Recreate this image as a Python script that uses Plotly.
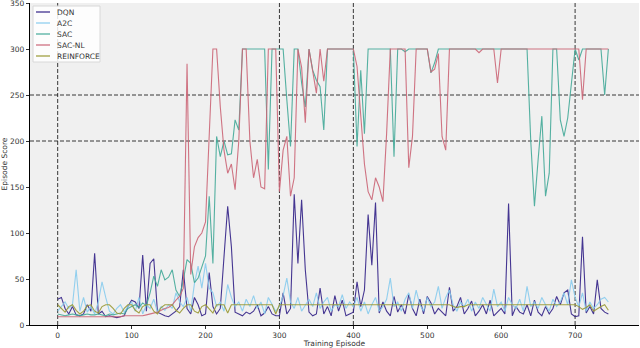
import plotly.graph_objects as go

# scores sampled every 5 training episodes (0, 5, ..., 745)
EPISODE_STEP = 5

dqn = [
    28, 30, 18, 12, 20, 11, 10, 12, 22, 15,
    78, 12, 15, 9, 10, 9, 8, 9, 10, 20,
    27, 25, 18, 76, 15, 67, 72, 14, 12, 10,
    9, 12, 15, 20, 60, 18, 12, 30, 22, 10,
    12, 57, 20, 12, 18, 74, 129, 85, 14, 12,
    10, 14, 12, 15, 22, 10, 13, 20, 12, 10,
    10, 35, 12, 18, 142, 67, 136, 60, 14, 10,
    12, 40, 12, 20, 10, 32, 15, 27, 10, 12,
    14, 47, 20, 38, 120, 65, 133, 13, 25, 15,
    10, 31, 14, 22, 12, 33, 18, 10, 28, 12,
    31, 24, 12, 18, 14, 10, 41, 15, 20, 30,
    12, 18, 26, 10, 15, 22, 12, 27, 10, 14,
    18, 12, 132, 10, 20, 14, 12, 22, 10, 27,
    14, 10, 20, 12, 18, 31, 22, 35, 38, 12,
    9, 10, 96, 13, 20, 12, 49, 18, 14, 12,
]

a2c = [
    15, 20, 25, 18, 22, 60, 15, 30, 14, 20,
    12, 25, 47, 30, 15, 12, 18, 22, 14, 20,
    25, 15, 30, 12, 22, 18, 28, 14, 20, 16,
    22, 18, 35, 25, 20, 30, 15, 45, 64, 40,
    67, 40, 35, 20, 25, 15, 44, 30, 20, 25,
    15, 28, 20, 32, 18, 25, 12, 30, 22, 15,
    20, 32, 51, 25, 18, 30, 15, 22, 28, 20,
    35, 18, 25, 30, 15, 22, 20, 33, 18, 25,
    20, 30, 15, 25, 12, 22, 30, 15, 20, 28,
    51, 20, 25, 15, 28, 35, 18, 38, 22, 15,
    30, 20, 25, 42, 18, 30, 38, 22, 15, 25,
    20, 28, 15, 25, 18, 30, 22, 15, 39, 20,
    25, 15, 30, 22, 18, 28, 15, 42, 20, 25,
    18, 30, 22, 15, 28, 20, 25, 35, 22, 49,
    30, 20, 35, 15, 25, 18, 22, 28, 30, 25,
]

sac = [
    12, 11, 10, 11, 12, 11, 10, 11, 12, 11,
    11, 12, 11, 10, 12, 11, 12, 13, 12, 18,
    20, 22, 19, 24, 21, 35, 53, 42, 60, 49,
    52, 60, 38, 31, 49, 71, 67, 46, 51, 63,
    75, 140, 67, 205, 183, 200, 185, 186, 223, 212,
    300, 300, 300, 300, 300, 300, 300, 169, 300, 300,
    300, 300, 245, 194, 300, 300, 263, 237, 300, 277,
    266, 259, 212, 300, 300, 300, 300, 300, 300, 300,
    300, 194, 277, 208, 300, 300, 300, 300, 300, 300,
    300, 183, 300, 300, 297, 300, 300, 300, 300, 300,
    300, 274, 285, 300, 300, 300, 300, 300, 300, 300,
    300, 300, 300, 300, 300, 300, 300, 300, 300, 300,
    300, 300, 300, 300, 300, 300, 300, 300, 200, 129,
    180, 227, 140, 165, 300, 300, 223, 205, 225, 260,
    300, 288, 300, 300, 300, 300, 300, 300, 250, 300,
]

sac_nl = [
    9, 9, 9, 9, 9, 9, 9, 9, 9, 9,
    9, 9, 9, 9, 9, 9, 9, 9, 10, 10,
    10, 10, 10, 10, 11, 12, 13, 14, 16, 18,
    19, 22, 27, 31, 40, 284, 55, 85, 95, 100,
    112, 198, 300, 300, 237, 190, 165, 175, 147, 200,
    300, 300, 200, 160, 180, 150, 148, 300, 300, 300,
    145, 190, 205, 140, 160, 300, 280, 220, 300, 274,
    252, 300, 265, 300, 300, 300, 300, 300, 300, 300,
    300, 281, 230, 175, 145, 136, 160, 150, 134, 208,
    300, 300, 300, 300, 300, 171, 205, 300, 300, 300,
    300, 275, 278, 295, 205, 190, 300, 300, 300, 300,
    300, 300, 300, 300, 296, 300, 300, 300, 300, 263,
    300, 300, 300, 300, 300, 300, 300, 300, 300, 300,
    300, 300, 300, 300, 300, 300, 300, 300, 300, 300,
    300, 300, 245, 300, 300, 300, 300, 300, 300, 300,
]

reinforce = [
    22, 18, 14, 20, 22, 16, 12, 15, 21, 22,
    15, 13, 20, 22, 22, 18, 13, 12, 18, 22,
    22, 16, 13, 20, 22, 22, 15, 12, 19, 22,
    22, 22, 16, 13, 18, 22, 22, 15, 13, 20,
    22, 18, 13, 22, 22, 22, 13, 22, 22, 22,
    22, 22, 22, 22, 22, 22, 22, 22, 22, 12,
    22, 22, 22, 22, 22, 22, 22, 22, 22, 22,
    22, 22, 22, 22, 22, 22, 22, 22, 22, 22,
    22, 22, 22, 22, 22, 22, 22, 22, 22, 22,
    22, 22, 22, 22, 22, 22, 22, 22, 22, 22,
    22, 22, 22, 22, 22, 22, 22, 20, 19, 20,
    20, 22, 22, 22, 22, 22, 22, 22, 22, 22,
    22, 22, 22, 22, 22, 22, 22, 22, 22, 22,
    22, 22, 22, 22, 22, 22, 22, 22, 22, 22,
    22, 20, 17, 19, 22, 15, 18, 20, 22, 16,
]

series = [
    ("DQN", dqn, "#332288"),
    ("A2C", a2c, "#88CCEE"),
    ("SAC", sac, "#44AA99"),
    ("SAC-NL", sac_nl, "#CC6677"),
    ("REINFORCE", reinforce, "#999933"),
]

# dashed reference lines
v_lines = [0, 300, 400, 700]
h_lines = [200, 250]

y_ticks = [0, 50, 100, 150, 200, 250, 300, 350]
x_ticks = [0, 100, 200, 300, 400, 500, 600, 700]

W, H = 640, 348
M = dict(l=30, r=1, t=3, b=23)
PW = W - M["l"] - M["r"]
PH = H - M["t"] - M["b"]


def px_to_paper(px, py):
    # pixel position in the figure -> paper coordinates
    return (px - M["l"]) / PW, (H - M["b"] - py) / PH


fig = go.Figure()
for name, values, color in series:
    fig.add_trace(go.Scatter(
        y=values, x0=0, dx=EPISODE_STEP,
        mode="lines", name=name,
        line=dict(color=color, width=1.1),
        opacity=0.9,
    ))

ref_line = dict(color="#222222", width=0.9, dash="4px,2px")
for xv in v_lines:
    fig.add_shape(type="line", xref="x", yref="paper", x0=xv, x1=xv, y0=0, y1=1,
                  line=ref_line, layer="below")
for yv in h_lines:
    fig.add_shape(type="line", xref="paper", yref="y", x0=0, x1=1, y0=yv, y1=yv,
                  line=ref_line, layer="below")

# compact legend box drawn by hand (plotly's own legend rows are too tall here)
bx0, by0 = px_to_paper(33, 62)
bx1, by1 = px_to_paper(100, 6)
fig.add_shape(type="rect", xref="paper", yref="paper", x0=bx0, y0=by0, x1=bx1, y1=by1,
              line=dict(color="#d8d8d8", width=1), fillcolor="rgba(255,255,255,0.85)")
for i, (name, _, color) in enumerate(series):
    row_y = 12 + i * 11
    lx0, ly = px_to_paper(36, row_y)
    lx1, _ = px_to_paper(50, row_y)
    tx, _ = px_to_paper(55, row_y)
    fig.add_shape(type="line", xref="paper", yref="paper", x0=lx0, x1=lx1, y0=ly, y1=ly,
                  line=dict(color=color, width=1.2))
    fig.add_annotation(xref="paper", yref="paper", x=tx, y=ly, text=name, showarrow=False,
                       xanchor="left", yanchor="middle",
                       font=dict(family="DejaVu Sans", size=7.5, color="#333333"))

axis_font = dict(family="DejaVu Sans", size=7.5, color="#333333")

fig.update_layout(
    width=W, height=H,
    margin=M,
    paper_bgcolor="white",
    plot_bgcolor="#f0f0f0",
    font=dict(family="DejaVu Sans", size=8, color="#333333"),
    showlegend=False,
    xaxis=dict(
        range=[-37.45, 786.45], tickvals=x_ticks, showgrid=False, zeroline=False,
        showline=True, linecolor="black", linewidth=1.2, mirror=False,
        ticks="outside", ticklen=3, tickcolor="#333333", tickfont=axis_font,
        automargin=False,
        title=dict(text="Training Episode", font=dict(family="DejaVu Sans", size=7.5, color="#333333"),
                   standoff=3),
    ),
    yaxis=dict(
        range=[0, 350], tickvals=y_ticks, showgrid=False, zeroline=False,
        showline=True, linecolor="black", linewidth=1.2, mirror=False,
        ticks="outside", ticklen=3, tickcolor="#333333", tickfont=axis_font,
        automargin=False, ticklabeloverflow="allow",
        title=dict(text="Episode Score", font=dict(family="DejaVu Sans", size=7.5, color="#333333"),
                   standoff=4),
    ),
)

fig.write_html("out.html", config={"displayModeBar": False},
               post_script="document.body.style.margin='0';")
